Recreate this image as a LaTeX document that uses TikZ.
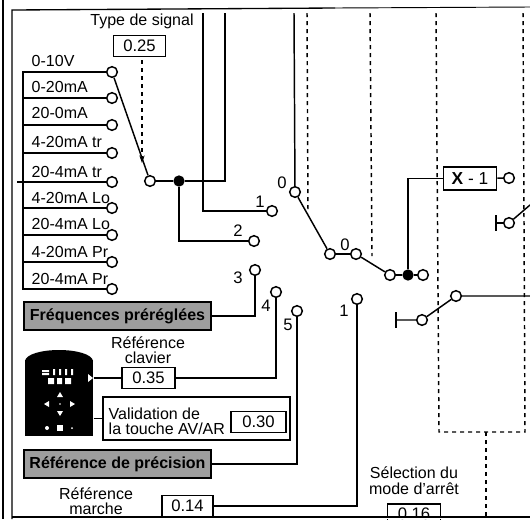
\documentclass[tikz,border=0pt]{standalone}
\usepackage{fontspec}
\setmainfont{Liberation Sans}
\usepackage{xcolor}
\usetikzlibrary{arrows.meta,positioning}

\begin{document}
\begin{tikzpicture}[
      x=0.75pt, y=-0.75pt,
      line width=1.1pt,
      lbl/.style={inner sep=0pt, align=center, font=\fontsize{12}{11}\selectfont},
      inlbl/.style={lbl, anchor=base west},
      num/.style={lbl, font=\fontsize{12.5}{14}\selectfont},
      box/.style={rectangle, draw=black, line width=1.2pt, fill=white, inner sep=0pt,
                  font=\fontsize{12.5}{14}\selectfont},
      preset/.style={rectangle, draw=black, line width=1.5pt, fill=black!38, inner sep=0pt,
                  minimum width=140pt, minimum height=21pt,
                  font=\bfseries\fontsize{12}{14}\selectfont},
      contact/.style={circle, draw=black, fill=white, line width=1.1pt, inner sep=0pt, minimum size=8pt},
      joint/.style={circle, fill=black, inner sep=0pt, minimum size=8.5pt},
      dashline/.style={line width=1.1pt, dash pattern=on 3pt off 3pt},
      arr/.style={-{Stealth[length=2mm,width=1.4mm]}}
    ]
    \useasboundingbox (0,0) rectangle (530,519);
    % frame
    \draw[line width=1pt] (3,0) -- (3,519);
    \draw[line width=1pt] (12,519) -- (12,10) -- (335,8);
    \draw[line width=.7pt] (335,8) -- (530,7);

    % input list
    \node[contact] (in1) at (112,72) {};
    \node[contact] (in2) at (112,98) {};
    \node[contact] (in3) at (112,125) {};
    \node[contact] (in4) at (112,153) {};
    \node[contact] (in5) at (112,182) {};
    \node[contact] (in6) at (112,208) {};
    \node[contact] (in7) at (112,235) {};
    \node[contact] (in8) at (112,262) {};
    \node[contact] (in9) at (112,289) {};
    \coordinate (bustop) at (23,72);
    \coordinate (busend) at (23,289);
    \coordinate (busstub) at (17,182);
    \draw (in1) -- (bustop) -- (busend) -- (in9);
    \draw (in2) -- (bustop |- in2);
    \draw (in3) -- (bustop |- in3);
    \draw (in4) -- (bustop |- in4);
    \draw (in5) -- (busstub);
    \draw (in6) -- (bustop |- in6);
    \draw (in7) -- (bustop |- in7);
    \draw (in8) -- (bustop |- in8);
    \node[inlbl] (t1) at (31,66) {0-10V};
    \node[inlbl] (t2) at (31,92) {0-20mA};
    \node[inlbl] (t3) at (31,118) {20-0mA};
    \node[inlbl] (t4) at (31,147) {4-20mA tr};
    \node[inlbl] (t5) at (31,177) {20-4mA tr};
    \node[inlbl] (t6) at (31,203) {4-20mA Lo};
    \node[inlbl] (t7) at (31,229) {20-4mA Lo};
    \node[inlbl] (t8) at (31,257) {4-20mA Pr};
    \node[inlbl] (t9) at (31,284) {20-4mA Pr};

    % signal type selector
    \node[lbl] (typetxt) at (142,21) {Type de signal};
    \node[box, minimum width=39pt, minimum height=16pt] (typeval) at (139.5,46) {0.25};
    \node[contact] (sigout) at (150,181) {};
    \node[joint] (sigdot) at (179,181) {};
    \coordinate (typea) at (142,60);
    \coordinate (typeb) at (142,163);
    \draw (in1) -- (sigout);
    \draw[dashline, arr] (typea) -- (typeb);
    \draw (sigout) -- (sigdot);

    % reference selector
    \coordinate (sigup) at (225,13);
    \coordinate (feedin) at (203,13);
    \coordinate (keyin) at (294,13);
    \node[contact] (ref0) at (295,192) {};
    \node[contact] (ref1) at (272,211) {};
    \node[contact] (ref2) at (254,241) {};
    \node[contact] (ref3) at (255,270) {};
    \node[contact] (ref4) at (276,292) {};
    \node[contact] (ref5) at (297,311) {};
    \node[contact] (stopref) at (357,299) {};
    \node[contact] (sw0) at (330,254) {};
    \node[contact] (sw1) at (356,254) {};
    \node[contact] (mixa) at (390,275) {};
    \node[joint] (mixdot) at (408,275) {};
    \node[contact] (mixb) at (423,275) {};
    \node[num] (n0) at (282,183) {0};
    \node[num] (n1) at (260,202) {1};
    \node[num] (n2) at (238,231) {2};
    \node[num] (n3) at (238,278) {3};
    \node[num] (n4) at (266,306) {4};
    \node[num] (n5) at (288,325) {5};
    \node[num] (n00) at (345,245) {0};
    \node[num] (n11) at (344,311) {1};
    \draw (sigdot) -| (sigup);
    \draw (feedin) |- (ref1);
    \draw (sigdot) |- (ref2);
    \draw (keyin) -- (ref0);
    \draw (ref0) -- (sw0);
    \draw (sw0) -- (sw1);
    \draw (sw1) -- (mixa);
    \draw (mixa) -- (mixdot) -- (mixb);

    % X-1 and stop switch
    \node[box, minimum width=40pt, minimum height=17pt, font=\fontsize{13}{14}\selectfont] (xbox) at (470,178.5) {\textbf{X} - 1};
    \node[contact] (xout) at (509,178) {};
    \draw (mixdot) |- (xbox);
    \draw (xbox) -- (xout);
    \node[contact] (fb) at (509,223) {};
    \coordinate (fbtop) at (530,205);
    \coordinate (fbbar) at (496,223);
    \draw (fb) -- (fbtop);
    \draw (fb) -- (fbbar);
    \draw (496,215) -- (496,231);
    \node[contact] (stopa) at (422,320) {};
    \node[contact] (stopb) at (456,296) {};
    \coordinate (stopbar) at (396,320);
    \coordinate (stopend) at (530,296);
    \draw (stopbar) -- (stopa) -- (stopb) -- (stopend);
    \draw (396,312) -- (396,328);

    % mechanical links
    \draw[dashline] (307,13) -- (308,213);
    \draw[dashline] (370,13) -- (372,256);
    \draw[dashline] (436,13) -- (439,432) -- (525,432) -- (523,13);
    \draw[dashline] (486,432) -- (486,517);

    % presets
    \node[preset] (freq) at (117.5,316) {Fréquences préréglées};
    \node[preset] (prec) at (117.5,464) {Référence de précision};
    \draw (freq) -| (ref3);
    \draw (prec) -| (ref5);

    % keypad
    \node[rectangle, fill=black, minimum width=51pt, minimum height=57pt, inner sep=0pt] (pad) at (59,398) {};
    \fill (25,361) .. controls (26,354) and (42,350) .. (59,350) .. controls (76,350) and (92,354) .. (93,361) -- cycle;
    \fill[white] (42,370) rectangle (49,372) (42,373) rectangle (49,375) (53,369) rectangle (55,375)
      (59,369) rectangle (61,375) (65,369) rectangle (67,375) (71,369) rectangle (73,375);
    \fill[white] (48,378) rectangle (54,384) (57,378) rectangle (62,384) (65,378) rectangle (71,384);
    \fill[white] (93,378) -- (88,374) -- (88,382) -- cycle;
    \fill[white] (60,392) -- (57,397) -- (63,397) -- cycle;
    \fill[white] (60,416) -- (57,411) -- (63,411) -- cycle;
    \fill[white] (44,404) -- (49,401) -- (49,407) -- cycle;
    \fill[white] (75,404) -- (70,401) -- (70,407) -- cycle;
    \fill[white] (60,404) circle (.8);
    \fill[white] (57,425) rectangle (63,431);
    \fill[white] (47,428) circle (2);
    \fill[white] (72,428) circle (1);

    % keypad reference
    \node[lbl] (clavtxt) at (148,350) {Référence\\clavier};
    \node[box, minimum width=40pt, minimum height=16pt] (clavval) at (148.5,378) {0.35};
    \draw (pad.east |- clavval) -- (clavval);
    \draw (clavval) -| (ref4);
    \node[rectangle, draw=black, line width=1.2pt, minimum width=140pt, minimum height=32pt, inner sep=0pt] (valbox) at (196.5,418.5) {};
    \node[lbl, anchor=west, align=left] (valtxt) at (108,421) {Validation de\\la touche AV/AR};
    \node[box, minimum width=41pt, minimum height=16pt] (valval) at (258.5,422) {0.30};
    \draw (pad.east |- valbox) -- (valbox);

    % bottom row
    \node[lbl] (marchetxt) at (96,501) {Référence\\marche};
    \node[box, minimum width=38pt, minimum height=16pt] (marcheval) at (187.5,506) {0.14};
    \draw (marcheval) -| (stopref);
    \node[lbl, font=\fontsize{12}{12}\selectfont] (stoptxt) at (414,481) {Sélection du\\mode d'arrêt};
    \node[box, minimum width=40pt, minimum height=14.5pt, anchor=north] (stopval) at (414,503) {0.16};
    \fill[white] (14,517) rectangle (530,519);
    \draw[line width=1pt] (12,517) -- (530,517);
\end{tikzpicture}
\end{document}
